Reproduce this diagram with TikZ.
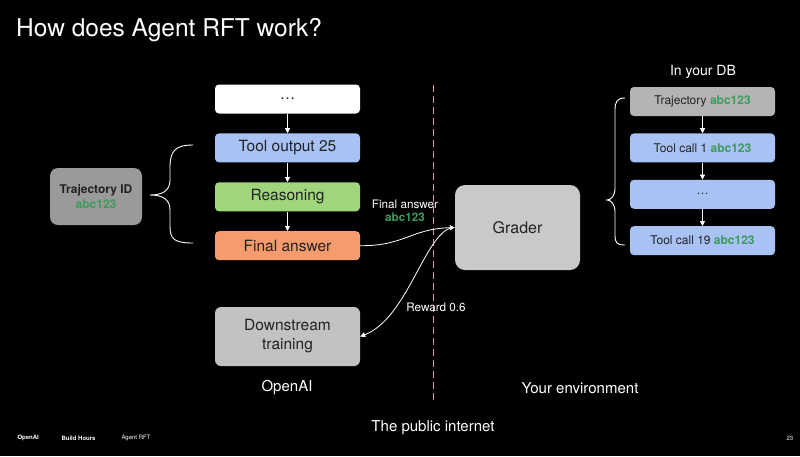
\documentclass[tikz,border=0pt]{standalone}
\usepackage{fontspec}
\setmainfont{TeX Gyre Heros}
\usetikzlibrary{positioning,arrows.meta}
\definecolor{toolblue}{HTML}{A9C2F4}
\definecolor{reasongreen}{HTML}{9FD67C}
\definecolor{answerorange}{HTML}{F59B6D}
\definecolor{idgray}{HTML}{9A9A9A}
\definecolor{gradergray}{HTML}{C9C9C9}
\definecolor{traingray}{HTML}{C2C2C2}
\definecolor{trajgray}{HTML}{B4B4B4}
\definecolor{tagGreen}{HTML}{3E9A5C}
\definecolor{boxtext}{HTML}{222222}
\definecolor{divider}{HTML}{C99AA6}
\newcommand{\abcid}{\textbf{\color{tagGreen}abc123}}
\begin{document}
\begin{tikzpicture}[x=1pt, y=-1pt, >={Triangle[length=5pt,width=5pt]},
	box/.style={rounded corners=4pt, minimum width=145pt, minimum height=29pt, inner sep=0pt, text=boxtext, font=\fontsize{15.5}{17}\selectfont},
	dbbox/.style={box, fill=toolblue, font=\fontsize{12}{14}\selectfont},
	link/.style={->, white, line width=0.8pt},
	caption/.style={text=white, font=\fontsize{15}{17}\selectfont},
	foot/.style={text=white, font=\fontsize{6}{7}\selectfont, anchor=west}]
	\fill[black] (0,0) rectangle (800,456);
	\useasboundingbox (0,0) rectangle (800,456);

	\node[anchor=base west, text=white, font=\fontsize{24.5}{28}\selectfont, inner sep=0pt] (title) at (16,36) {How does Agent RFT work?};

	\node[box, fill=white] (dots) at (287.5,99) {\dots};
	\node[box, fill=toolblue, below=19.5pt of dots] (tool) {Tool output 25};
	\node[box, fill=reasongreen, below=19.5pt of tool] (reason) {Reasoning};
	\node[box, fill=answerorange, below=19.5pt of reason] (answer) {Final answer};
	\draw[link] (dots) -- (tool);
	\draw[link] (tool) -- (reason);
	\draw[link] (reason) -- (answer);

	\node[rounded corners=8pt, fill=idgray, minimum width=92pt, minimum height=57pt, align=center, text=boxtext, font=\bfseries\fontsize{12}{14.5}\selectfont] (trajid) at (96,196.5) {Trajectory ID\\\abcid};
	\draw[white, line width=0.9pt] (193,145) .. controls (174,145) and (170,152) .. (170,168) -- (170,180) .. controls (170,191) and (162,195) .. (150,195) .. controls (162,195) and (170,199) .. (170,210) -- (170,226) .. controls (170,239) and (174,243) .. (193,243);

	\node[rounded corners=10pt, fill=gradergray, minimum width=125pt, minimum height=85pt, text=boxtext, font=\fontsize{16}{18}\selectfont] (grader) at (517.5,227.5) {Grader};
	\node[box, rounded corners=6pt, fill=traingray, minimum height=59pt, align=center, font=\fontsize{15.5}{19}\selectfont] (train) at (287.5,336.5) {Downstream\\training};

	\draw[divider, dash pattern=on 7pt off 4pt, line width=0.9pt] (433,85) -- (433,400);

	\draw[link] (answer.east) .. controls (405,246) and (410,229) .. (grader.west);
	\draw[link] ([xshift=-2pt]grader.west) .. controls (425,232) and (408,318) .. (train.east);
	\node[text=white, font=\fontsize{11.7}{13.5}\selectfont, align=center] (anslabel) at (405,211) {Final answer\\\abcid};
	\node[text=white, font=\fontsize{11.7}{13.5}\selectfont] (reward) at (436,307) {Reward 0.6};

	\node[caption] (openai) at (287,388) {OpenAI};
	\node[caption] (yourenv) at (580,388) {Your environment};
	\node[caption] (internet) at (433,428) {The public internet};

	\node[text=white, font=\fontsize{14}{16}\selectfont] (indb) at (703,72) {In your DB};
	\node[dbbox, fill=trajgray] (traj) at (702.5,101.5) {Trajectory \abcid};
	\node[dbbox, below=17pt of traj] (call1) {Tool call 1 \abcid};
	\node[dbbox, below=17pt of call1] (calldots) {\dots};
	\node[dbbox, below=17pt of calldots] (call19) {Tool call 19 \abcid};
	\draw[link] (traj) -- (call1);
	\draw[link] (call1) -- (calldots);
	\draw[link] (calldots) -- (call19);
	\draw[white, line width=0.9pt] (625,98) .. controls (617,98) and (615,102) .. (615,110) -- (615,188) .. controls (615,196) and (611,200) .. (607,200) .. controls (611,200) and (615,204) .. (615,212) -- (615,235) .. controls (615,243) and (617,245) .. (625,245);

	\node[foot, font=\bfseries\fontsize{6}{7}\selectfont] (brand) at (14,438) {OpenAI};
	\node[foot, font=\bfseries\fontsize{6}{7}\selectfont] (series) at (58,438) {Build Hours};
	\node[foot] (topic) at (118,438) {Agent RFT};
	\node[foot] (page) at (783,438) {23};
\end{tikzpicture}
\end{document}
